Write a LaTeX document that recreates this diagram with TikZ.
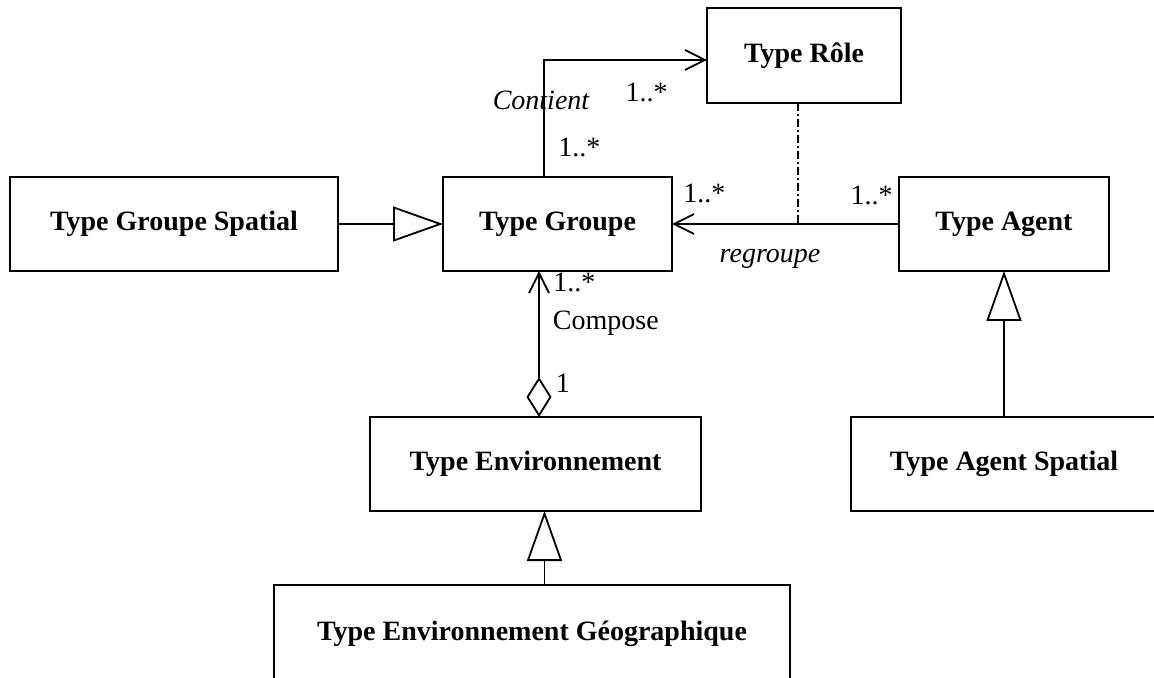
\documentclass[tikz,border=0pt]{standalone}
\usepackage{fontspec}
\setmainfont{Liberation Serif}
\usetikzlibrary{arrows.meta,positioning,calc}

\begin{document}
\begin{tikzpicture}[
    node distance=52.5pt,
    cls/.style={draw,line width=0.9pt,minimum height=47pt,inner sep=0pt,outer sep=0pt,
                font=\fontsize{14}{17}\selectfont\bfseries},
    lbl/.style={inner sep=0pt,font=\fontsize{14}{17}\selectfont},
    italbl/.style={inner sep=0pt,font=\fontsize{14}{17}\selectfont\itshape},
    gen/.style={-{Triangle[open,length=25pt,width=17.5pt]},line width=0.9pt},
    assoc/.style={-{Straight Barb[length=10pt,width=10pt]},line width=0.9pt},
    comp/.style={{Diamond[open,length=20pt,width=12.5pt]}-{Straight Barb[length=10pt,width=10pt]},
                 line width=0.9pt},
    link/.style={line width=0.6pt,dash pattern=on 4pt off 1.5pt on 1pt off 1.5pt}
  ]
  \node[cls,minimum width=164pt] (grpspatial) {Type Groupe Spatial};
  \node[cls,minimum width=114.5pt,right=of grpspatial] (groupe) {Type Groupe};
  \node[cls,minimum width=105pt,right=113.5pt of groupe] (agent) {Type Agent};
  \node[cls,minimum width=97pt,minimum height=47.5pt,
        above right=37pt and 17.5pt of groupe] (role) {Type Rôle};
  \node[cls,minimum width=165.5pt,below=73pt of groupe,xshift=-11pt] (env) {Type Environnement};
  \node[cls,minimum width=258pt,minimum height=48.5pt,
        below=37pt of env,xshift=-1.75pt] (envgeo) {Type Environnement Géographique};
  \node[cls,minimum width=153pt,below=73pt of agent] (agentsp) {Type Agent Spatial};

  % generalisations
  \draw[gen] (grpspatial) -- (groupe);
  \draw[gen] (agentsp) -- (agent);
  \draw[gen] ([xshift=6.25pt]envgeo.north) -- ([xshift=6.25pt]envgeo.north |- env.south);

  % composition
  \draw[comp] ([xshift=1.75pt]env.north) coordinate (cmpbot)
    -- node[lbl,pos=0.23,right=8pt] (mcomp1) {1}
       node[lbl,pos=0.64,right=6.5pt] (compose) {Compose}
       (cmpbot |- groupe.south) coordinate (cmptop);
  \node[lbl,below right=1pt and 7pt of cmptop] (mcomp2) {1..*};

  % contient
  \draw[assoc] ([xshift=-6.75pt]groupe.north) |- ([yshift=-2.25pt]role.west);
  \node[italbl,above=33.5pt of groupe.north,xshift=-8.25pt] (contient) {Contient};
  \node[lbl,above right=10pt and 0.25pt of groupe.north] (mcont1) {1..*};
  \node[lbl,above left=0.5pt and 19.5pt of role.south west] (mcont2) {1..*};

  % regroupe
  \draw[assoc] (agent) -- (groupe);
  \coordinate (rgp) at ([xshift=-3pt]role.south |- agent.west);
  \draw[link] ([xshift=-3pt]role.south) -- (rgp);
  \node[italbl,below=12.5pt of rgp,xshift=-14pt] (regroupe) {regroupe};
  \node[lbl,above right=10.5pt and 5.5pt of groupe.east] (mrg1) {1..*};
  \node[lbl,above left=9.5pt and 3pt of agent.west] (mrg2) {1..*};

  \pgfresetboundingbox
  \path[use as bounding box] ($(grpspatial.west |- role.north)+(-5pt,4pt)$) rectangle ++(577pt,-339pt);
\end{tikzpicture}
\end{document}
